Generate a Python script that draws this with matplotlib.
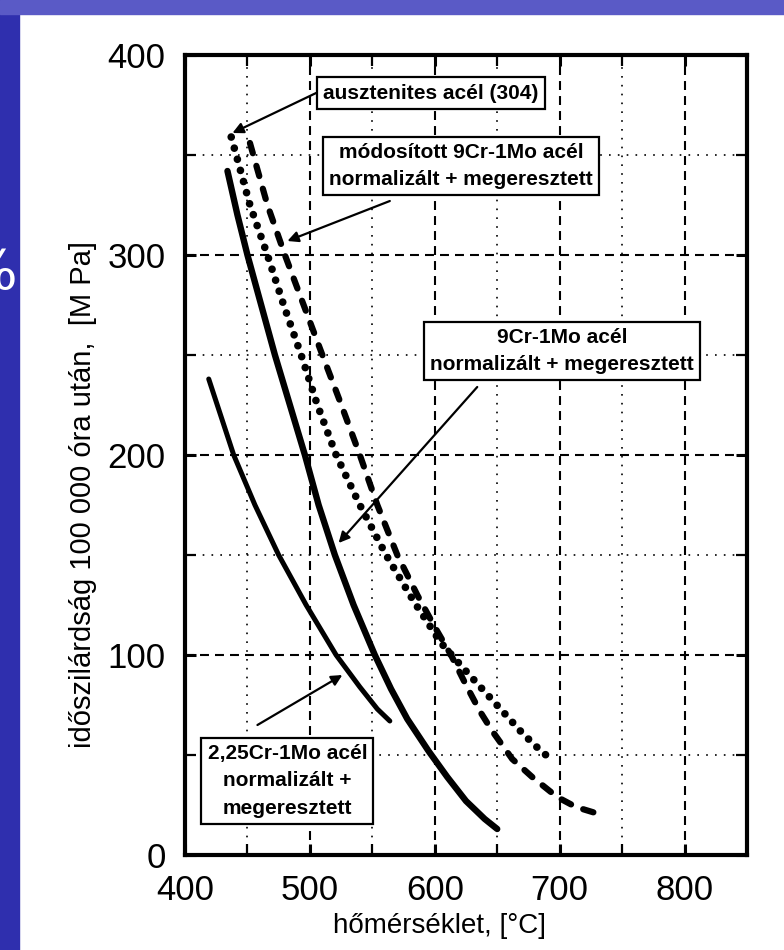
import matplotlib
matplotlib.use("Agg")
import matplotlib.pyplot as plt
from matplotlib import font_manager
from matplotlib.patches import Rectangle

# creep strength after 100 000 h
t_225cr = [419, 429, 439, 456, 475, 497, 521, 540, 554, 564]
s_225cr = [238, 219, 200, 175, 150, 125, 100, 84, 73, 67]

t_9cr = [434, 442, 450, 461, 472, 484, 496, 507, 520, 535, 552, 565, 578, 595, 610, 625, 640, 650]
s_9cr = [342, 320, 300, 275, 250, 225, 200, 175, 150, 125, 100, 83, 68, 52, 39, 27, 18, 13]

t_304 = [437, 441, 452, 466, 479, 493, 506, 521, 540, 561, 583, 605, 622, 638, 657, 670, 685, 693]
s_304 = [359, 350, 325, 300, 275, 250, 225, 200, 175, 150, 127, 106, 94, 83, 70, 61, 52, 48]

t_mod9cr = [452, 466, 480, 495, 510, 524, 540, 554, 570, 586, 600, 613, 625, 636, 646, 662, 678, 698, 713, 734]
s_mod9cr = [356, 325, 300, 275, 250, 227, 200, 175, 150, 130, 114, 100, 85, 72, 62, 48, 39, 29, 24, 20]

x_ticks = [400, 500, 600, 700, 800]
y_ticks = [0, 100, 200, 300, 400]

names = {f.name for f in font_manager.fontManager.ttflist}
narrow = "Liberation Sans Narrow" if "Liberation Sans Narrow" in names else "Liberation Sans"
plt.rcParams["font.family"] = [narrow, "DejaVu Sans"]

fig = plt.figure(figsize=(7.84, 9.5), dpi=100)

# slide background strips
fig.patches.append(Rectangle((0, 0), 19 / 784, 1, transform=fig.transFigure,
                             color="#2f2fae", zorder=0))
fig.patches.append(Rectangle((0, 1 - 14 / 950), 1, 14 / 950, transform=fig.transFigure,
                             color="#5a5ac6", zorder=0))
fig.text(18 / 784, 1 - 274 / 950, "%", color="white", fontsize=40, ha="right", va="center",
         family="DejaVu Sans")

ax = fig.add_axes([185 / 784, 95 / 950, 562 / 784, 800 / 950])
ax.set_xlim(400, 850)
ax.set_ylim(0, 400)

# grid: dashed every 100, dotted in between
for x in [500, 600, 700, 800]:
    ax.axvline(x, color="black", lw=1.5, ls=(0, (4.3, 2.9)), zorder=1)
for x in [450, 550, 650, 750]:
    ax.axvline(x, color="black", lw=1.2, ls=(0, (1, 4.3)), zorder=1)
for y in [100, 200, 300]:
    ax.axhline(y, color="black", lw=1.5, ls=(0, (4.3, 2.9)), zorder=1)
for y in [50, 150, 250, 350]:
    ax.axhline(y, color="black", lw=1.2, ls=(0, (1, 4.3)), zorder=1)

ax.plot(t_225cr, s_225cr, color="black", lw=3.6, solid_capstyle="round",
        solid_joinstyle="round", zorder=3)
ax.plot(t_9cr, s_9cr, color="black", lw=4.6, solid_capstyle="round",
        solid_joinstyle="round", zorder=3)
ax.plot(t_304, s_304, color="black", lw=5.5, ls=(0, (0.01, 1.5)),
        dash_capstyle="round", zorder=3)
ax.plot(t_mod9cr, s_mod9cr, color="black", lw=4.5, ls=(0, (1.7, 2.1)),
        dash_capstyle="round", zorder=3)

ax.set_xticks(x_ticks)
ax.set_yticks(y_ticks)
ax.set_xticks([450, 550, 650, 750, 850], minor=True)
ax.set_yticks([50, 150, 250, 350], minor=True)
ax.tick_params(which="both", direction="in", length=8, width=2.2, top=True, right=True,
               labelsize=25, pad=14)
ax.tick_params(which="minor", length=8, width=1.6)
for s in ax.spines.values():
    s.set_linewidth(3)

fig.text(440 / 784, 1 - 926 / 950, "hőmérséklet, [°C]", fontsize=20, ha="center", va="center")
fig.text(83 / 784, 1 - 495 / 950, "időszilárdság 100 000 óra után,  [M Pa]", fontsize=21,
         rotation=90, ha="center", va="center")

box = dict(boxstyle="square,pad=0.3", fc="white", ec="black", lw=1.6)
tkw = dict(fontsize=15, fontweight="bold", ha="center", va="center", bbox=box, zorder=5,
           linespacing=1.55)
arr = dict(arrowstyle="-|>", color="black", lw=1.6, mutation_scale=16, shrinkA=0, shrinkB=0)

ax.text(597, 381, "ausztenites acél (304)", **tkw)
ax.annotate("", xy=(438, 361), xytext=(505, 381), arrowprops=arr, zorder=4)

ax.text(621, 344.5, "módosított 9Cr-1Mo acél\nnormalizált + megeresztett", **tkw)
ax.annotate("", xy=(482, 307), xytext=(564, 327), arrowprops=arr, zorder=4)

ax.text(702, 252, "9Cr-1Mo acél\nnormalizált + megeresztett", **tkw)
ax.annotate("", xy=(523, 156), xytext=(634, 234), arrowprops=arr, zorder=4)

ax.text(482, 37, "2,25Cr-1Mo acél\nnormalizált +\nmegeresztett", **tkw)
ax.annotate("", xy=(526, 90), xytext=(458, 65), arrowprops=arr, zorder=4)

fig.savefig("out.png", dpi=100, facecolor="white")
